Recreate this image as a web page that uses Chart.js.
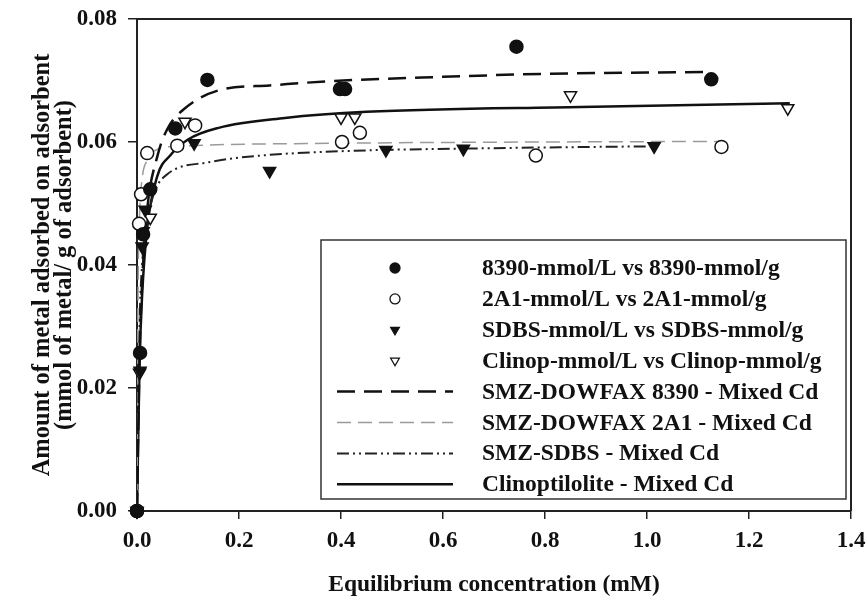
<!DOCTYPE html>
<html>
<head>
<meta charset="utf-8">
<script src="https://cdn.jsdelivr.net/npm/chart.js@4"></script>
<style>
  html, body { margin: 0; padding: 0; background: #fff; }
  #wrap { width: 868px; height: 605px; }
</style>
</head>
<body>
<div id="wrap"><canvas id="isotherm"></canvas></div>
<script>
// measured points (equilibrium conc. in mM, uptake in mmol/g)
const c8390 = [0, 0.006, 0.012, 0.026, 0.075, 0.138, 0.398, 0.408, 0.744, 1.126];
const q8390 = [0, 0.0257, 0.045, 0.0523, 0.0622, 0.0701, 0.0686, 0.0686, 0.0755, 0.0702];

const c2A1 = [0, 0.004, 0.008, 0.02, 0.079, 0.114, 0.402, 0.437, 0.782, 1.146];
const q2A1 = [0, 0.0467, 0.0515, 0.0582, 0.0594, 0.0627, 0.0600, 0.0615, 0.0578, 0.0592];

const cSDBS = [0, 0.006, 0.01, 0.012, 0.016, 0.112, 0.26, 0.488, 0.64, 1.014];
const qSDBS = [0, 0.0228, 0.043, 0.0455, 0.049, 0.0598, 0.0553, 0.0587, 0.0589, 0.0593];

const cClin = [0, 0.005, 0.026, 0.094, 0.400, 0.427, 0.850, 1.276];
const qClin = [0, 0.0225, 0.0477, 0.0633, 0.0640, 0.0640, 0.0676, 0.0655];

// fitted isotherm curves
const cFit8390 = [0, 0.005, 0.01, 0.02, 0.04, 0.06, 0.09, 0.16, 0.26, 0.38, 0.6, 0.81, 1.12];
const qFit8390 = [0, 0.025, 0.037, 0.049, 0.0577, 0.0622, 0.0652, 0.0684, 0.0692, 0.0699, 0.0706, 0.0711, 0.0714];

const cFit2A1 = [0, 0.002, 0.005, 0.01, 0.02, 0.04, 0.1, 0.4, 0.8, 1.15];
const qFit2A1 = [0, 0.035, 0.048, 0.054, 0.057, 0.0588, 0.0594, 0.0598, 0.0600, 0.0601];

const cFitSDBS = [0, 0.005, 0.01, 0.02, 0.035, 0.06, 0.14, 0.23, 0.4, 0.7, 1.01];
const qFitSDBS = [0, 0.03, 0.04, 0.047, 0.052, 0.0548, 0.0567, 0.0577, 0.0585, 0.059, 0.0593];

const cFitClin = [0, 0.005, 0.01, 0.02, 0.04, 0.065, 0.1, 0.16, 0.29, 0.45, 0.87, 1.28];
const qFitClin = [0, 0.024, 0.035, 0.046, 0.0545, 0.0578, 0.0604, 0.0623, 0.0639, 0.0649, 0.0657, 0.0663];

const xTicks = [0, 0.2, 0.4, 0.6, 0.8, 1.0, 1.2, 1.4];
const yTicks = [0, 0.02, 0.04, 0.06, 0.08];

const labels = [
  "8390-mmol/L vs 8390-mmol/g",
  "2A1-mmol/L vs 2A1-mmol/g",
  "SDBS-mmol/L vs SDBS-mmol/g",
  "Clinop-mmol/L vs Clinop-mmol/g",
  "SMZ-DOWFAX 8390 - Mixed Cd",
  "SMZ-DOWFAX 2A1 - Mixed Cd",
  "SMZ-SDBS - Mixed Cd",
  "Clinoptilolite - Mixed Cd"
];

function pts(xs, ys) {
  return xs.map((x, i) => ({ x: x, y: ys[i] }));
}

const serif = "'Liberation Serif', 'Times New Roman', serif";

function markers(label, xs, ys, style, fill, rot, r) {
  return {
    label: label,
    data: pts(xs, ys),
    showLine: false,
    pointStyle: style,
    pointRotation: rot,
    pointRadius: r,
    pointBorderWidth: 1.5,
    pointBackgroundColor: fill,
    pointBorderColor: '#111',
    clip: false
  };
}

function curve(label, xs, ys, color, width, dash) {
  return {
    label: label,
    data: pts(xs, ys),
    showLine: true,
    borderColor: color,
    borderWidth: width,
    borderDash: dash,
    pointRadius: 0,
    cubicInterpolationMode: 'monotone',
    fill: false
  };
}

const datasets = [
  markers(labels[0], c8390, q8390, 'circle', '#111', 0, 6.5),
  markers(labels[1], c2A1, q2A1, 'circle', '#fff', 0, 6.5),
  markers(labels[2], cSDBS, qSDBS, 'triangle', '#111', 180, 7),
  markers(labels[3], cClin, qClin, 'triangle', '#fff', 180, 7),
  curve(labels[4], cFit8390, qFit8390, '#111', 2.5, [18, 9]),
  curve(labels[5], cFit2A1, qFit2A1, '#9a9a9a', 1.5, [14, 7]),
  curve(labels[6], cFitSDBS, qFitSDBS, '#222', 2, [12, 4, 2, 4, 2, 4]),
  curve(labels[7], cFitClin, qFitClin, '#111', 2.5, [])
];

// white page + closed frame around the plot
const frame = {
  id: 'frame',
  beforeDraw(chart) {
    const ctx = chart.ctx;
    ctx.save();
    ctx.fillStyle = '#fff';
    ctx.fillRect(0, 0, chart.width, chart.height);
    ctx.restore();
  },
  afterDatasetsDraw(chart) {
    const a = chart.chartArea, ctx = chart.ctx;
    ctx.save();
    ctx.strokeStyle = '#222';
    ctx.lineWidth = 2;
    ctx.beginPath();
    ctx.moveTo(a.left, a.top);
    ctx.lineTo(a.right, a.top);
    ctx.lineTo(a.right, a.bottom);
    ctx.stroke();
    ctx.restore();
  }
};

// boxed legend inside the plot
const boxLegend = {
  id: 'boxLegend',
  afterDraw(chart) {
    const ctx = chart.ctx;
    const left = 321, top = 240, right = 846, bottom = 499;
    ctx.save();
    ctx.fillStyle = '#fff';
    ctx.fillRect(left, top, right - left, bottom - top);
    ctx.strokeStyle = '#333';
    ctx.lineWidth = 1.5;
    ctx.strokeRect(left, top, right - left, bottom - top);
    ctx.font = 'bold 23.5px ' + serif;
    ctx.textBaseline = 'middle';
    chart.data.datasets.forEach((ds, i) => {
      const y = 268 + i * 30.9;
      if (ds.showLine) {
        ctx.save();
        ctx.strokeStyle = ds.borderColor;
        ctx.lineWidth = ds.borderWidth;
        ctx.setLineDash(ds.borderDash);
        ctx.beginPath();
        ctx.moveTo(337, y);
        ctx.lineTo(453, y);
        ctx.stroke();
        ctx.restore();
      } else {
        ctx.save();
        ctx.fillStyle = ds.pointBackgroundColor;
        ctx.strokeStyle = ds.pointBorderColor;
        ctx.lineWidth = 1.3;
        Chart.helpers.drawPoint(ctx, {
          pointStyle: ds.pointStyle,
          rotation: ds.pointRotation,
          radius: 5,
          borderWidth: 1.3
        }, 395, y);
        ctx.restore();
      }
      ctx.fillStyle = '#111';
      ctx.fillText(ds.label, 482, y + 1);
    });
    ctx.restore();
  }
};

new Chart(document.getElementById('isotherm'), {
  type: 'scatter',
  data: { datasets: datasets },
  options: {
    responsive: true,
    maintainAspectRatio: false,
    animation: false,
    layout: { padding: { top: 19, right: 17, left: 0, bottom: 0 } },
    plugins: {
      legend: { display: false },
      tooltip: { enabled: false }
    },
    scales: {
      x: {
        type: 'linear',
        min: 0,
        max: 1.4,
        afterFit(scale) {
          scale.height = 94;
          scale.paddingLeft = 0;
          scale.paddingRight = 0;
        },
        afterBuildTicks(scale) { scale.ticks = xTicks.map(v => ({ value: v })); },
        border: { display: true, color: '#222', width: 2 },
        grid: { drawOnChartArea: false, drawTicks: true, tickLength: 8, color: '#222', lineWidth: 1.5 },
        ticks: {
          padding: 8,
          color: '#111',
          font: { family: serif, size: 23, weight: 'bold' },
          callback: v => v.toFixed(1)
        },
        title: {
          display: true,
          text: 'Equilibrium concentration (mM)',
          color: '#111',
          font: { family: serif, size: 23.5, weight: 'bold', lineHeight: 1 },
          padding: { top: 0, bottom: 8 }
        }
      },
      y: {
        type: 'linear',
        min: 0,
        max: 0.08,
        afterFit(scale) {
          scale.width = 137;
          scale.paddingTop = 0;
          scale.paddingBottom = 0;
        },
        afterBuildTicks(scale) { scale.ticks = yTicks.map(v => ({ value: v })); },
        border: { display: true, color: '#222', width: 2 },
        grid: { drawOnChartArea: false, drawTicks: true, tickLength: 9, color: '#222', lineWidth: 1.5 },
        ticks: {
          padding: 11,
          color: '#111',
          font: { family: serif, size: 23, weight: 'bold' },
          callback: v => v.toFixed(2)
        },
        title: {
          display: true,
          text: ['Amount of metal adsorbed on adsorbent', '(mmol of metal/ g of adsorbent)'],
          color: '#111',
          font: { family: serif, size: 24.5, weight: 'bold', lineHeight: 0.88 },
          padding: { top: 32, bottom: 0 }
        }
      }
    }
  },
  plugins: [frame, boxLegend]
});
</script>
</body>
</html>
